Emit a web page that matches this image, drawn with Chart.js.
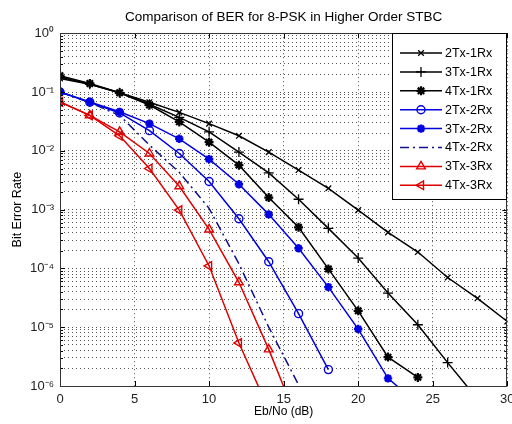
<!DOCTYPE html>
<html><head><meta charset="utf-8">
<script src="https://cdn.jsdelivr.net/npm/chart.js@4/dist/chart.umd.min.js"></script>
<style>html,body{margin:0;padding:0;background:#fff;overflow:hidden}#wrap{width:512px;height:424px;overflow:hidden}</style>
</head><body><div id="wrap"><canvas id="c" width="514" height="424"></canvas></div>
<script>
const titleText = 'Comparison of BER for 8-PSK in Higher Order STBC';
const xTitle = 'Eb/No (dB)';
const yTitle = 'Bit Error Rate';
const snr = [0,2,4,6,8,10,12,14,16,18,20,22,24,26,28,30];
const xTicks = [0,5,10,15,20,25,30];
const yMajorExps = [0,-1,-2,-3,-4,-5,-6];
const seriesNames = ['2Tx-1Rx','3Tx-1Rx','4Tx-1Rx','2Tx-2Rx','3Tx-2Rx','4Tx-2Rx','3Tx-3Rx','4Tx-3Rx'];
const ber2Tx1Rx = [0.17,0.135,0.097,0.067,0.045,0.029,0.018,0.0095,0.0047,0.0023,9.8e-4,4.1e-4,1.9e-4,7e-5,3.1e-5,1.25e-5];
const ber3Tx1Rx = [0.18,0.135,0.097,0.062,0.037,0.021,0.0095,0.0042,0.0015,4.8e-4,1.5e-4,3.8e-5,1.1e-5,2.5e-6,6e-7];
const ber4Tx1Rx = [0.19,0.14,0.097,0.06,0.031,0.014,0.0057,0.0016,5e-4,9.8e-5,1.9e-5,3.1e-6,1.4e-6];
const ber2Tx2Rx = [0.1,0.067,0.044,0.022,0.009,0.003,7e-4,1.3e-4,1.7e-5,1.9e-6];
const ber3Tx2Rx = [0.1,0.068,0.046,0.029,0.016,7.2e-3,2.7e-3,8.3e-4,2.2e-4,4.8e-5,9.3e-6,1.35e-6,5e-7];
const ber4Tx2Rx = [0.1,0.066,0.04,0.0125,4.3e-3,1.05e-3,1.2e-4,1e-5,1.05e-6,8e-8];
const ber3Tx3Rx = [0.068,0.04,0.021,0.009,2.5e-3,4.6e-4,5.8e-5,4.2e-6,2.3e-7];
const ber4Tx3Rx = [0.068,0.04,0.018,5e-3,9.8e-4,1.1e-4,5.4e-6,4e-7];

const FONT = '"Liberation Sans", Arial, Helvetica, sans-serif';
const BLACK = '#000000', BLUE = '#0000e0', RED = '#e00000';
const styles = [
  {c:BLACK, ps:'crossRot', r:4, bw:1.3, fill:'rgba(0,0,0,0)', dash:[]},
  {c:BLACK, ps:'cross', r:5, bw:1.3, fill:'rgba(0,0,0,0)', dash:[]},
  {c:BLACK, ps:'star', r:4.5, bw:2.2, fill:BLACK, dash:[]},
  {c:BLUE, ps:'circle', r:4, bw:1.4, fill:'rgba(0,0,0,0)', dash:[]},
  {c:BLUE, ps:'star', r:4.2, bw:2.4, fill:BLUE, dash:[]},
  {c:'#101090', ps:'circle', r:0, bw:1, fill:'rgba(0,0,0,0)', dash:[9,4,2,4]},
  {c:RED, ps:'triangle', r:5, bw:1.4, fill:'rgba(0,0,0,0)', dash:[]},
  {c:RED, ps:'triangle', r:5, bw:1.4, fill:'rgba(0,0,0,0)', dash:[], rot:270}
];
const bers = [ber2Tx1Rx,ber3Tx1Rx,ber4Tx1Rx,ber2Tx2Rx,ber3Tx2Rx,ber4Tx2Rx,ber3Tx3Rx,ber4Tx3Rx];

const datasets = bers.map((arr,i)=>{
  const s = styles[i];
  return {
    label: seriesNames[i],
    data: arr.map((v,k)=>({x:snr[k], y:v})),
    borderColor: s.c, borderWidth: 1.5, borderDash: s.dash,
    pointStyle: s.ps, pointRadius: s.r, pointBorderWidth: s.bw,
    pointBorderColor: s.c, pointBackgroundColor: s.fill,
    pointRotation: s.rot || 0, pointHoverRadius: s.r,
    tension: 0, fill: false
  };
});

const SUP = {'0':'\u2070','1':'\u00b9','2':'\u00b2','3':'\u00b3','4':'\u2074','5':'\u2075','6':'\u2076','7':'\u2077','8':'\u2078','9':'\u2079','-':'\u207b'};
function supStr(n){ return String(n).split('').map(ch=>SUP[ch]).join(''); }

const yTickVals = [];
for (let e=-6;e<=0;e++){ for (let m=1;m<=9;m++){ const v=parseFloat((m*Math.pow(10,e)).toPrecision(3)); if (v<=1) yTickVals.push(v); } }

const framePlugin = {
  id:'frame',
  afterDatasetsDraw(chart){
    const c = chart.ctx, a = chart.chartArea;
    const xs = chart.scales.x, ys = chart.scales.y;
    c.save();
    c.strokeStyle = '#000'; c.lineWidth = 1; c.setLineDash([]);
    c.beginPath();
    ys.ticks.forEach(t=>{
      const y = Math.round(ys.getPixelForValue(t.value))+0.5;
      const l = Math.abs(Math.log10(t.value)-Math.round(Math.log10(t.value)))<1e-9 ? 5 : 3;
      c.moveTo(a.left, y); c.lineTo(a.left+l, y);
      c.moveTo(a.right, y); c.lineTo(a.right-l, y);
    });
    xs.ticks.forEach(t=>{
      const x = Math.round(xs.getPixelForValue(t.value))+0.5;
      c.moveTo(x, a.bottom); c.lineTo(x, a.bottom-5);
      c.moveTo(x, a.top); c.lineTo(x, a.top+5);
    });
    c.stroke();
    c.strokeStyle = '#333'; c.lineWidth = 1;
    c.strokeRect(Math.round(a.left)+0.5, Math.round(a.top)+0.5, Math.round(a.right-a.left)-1, Math.round(a.bottom-a.top));
    c.restore();
  },
  afterDraw(chart){
    const c = chart.ctx;
    const L=392, T=33, R=507, B=200;
    c.save();
    c.fillStyle='#fff'; c.fillRect(L,T,R-L,B-T);
    c.strokeStyle='#000'; c.lineWidth=1; c.setLineDash([]);
    c.strokeRect(L+0.5,T+0.5,R-L-1,B-T-1);
    chart.data.datasets.forEach((ds,i)=>{
      const y = 53 + i*18.9;
      c.strokeStyle = ds.borderColor; c.lineWidth = ds.borderWidth;
      c.setLineDash(ds.borderDash||[]);
      c.beginPath(); c.moveTo(400,y); c.lineTo(442,y); c.stroke();
      c.setLineDash([]);
      if (ds.pointRadius>0){
        c.fillStyle = ds.pointBackgroundColor; c.strokeStyle = ds.pointBorderColor; c.lineWidth = ds.pointBorderWidth;
        Chart.helpers.drawPoint(c,{pointStyle:ds.pointStyle, rotation:ds.pointRotation||0, radius:ds.pointRadius, borderWidth:ds.pointBorderWidth},421,y);
      }
      c.fillStyle='#000'; c.font='12.5px '+FONT; c.textBaseline='middle'; c.textAlign='left';
      c.fillText(ds.label,445,y+0.5);
    });
    c.restore();
  }
};

new Chart(document.getElementById('c'), {
  type:'line',
  data:{datasets},
  options:{
    responsive:false, animation:false, devicePixelRatio:1,
    layout:{padding:{left:0,right:0,top:0,bottom:0}},
    plugins:{
      legend:{display:false}, tooltip:{enabled:false},
      title:{display:true, fullSize:false, text:titleText, color:'#000', font:{family:FONT,size:13.5,weight:'normal'}, padding:{top:9,bottom:8}}
    },
    scales:{
      x:{
        type:'linear', min:0, max:30,
        afterBuildTicks(s){ s.ticks = xTicks.map(v=>({value:v})); },
        ticks:{font:{family:FONT,size:13}, color:'#222', padding:6, autoSkip:false, maxRotation:0},
        grid:{color:'#555', lineWidth:1, drawTicks:false},
        border:{display:false, dash:[1,3]},
        title:{display:true, text:xTitle, color:'#000', font:{family:FONT,size:12}, padding:{top:0,bottom:5}},
        afterFit(s){ s.height = 38; s.paddingRight = 0; s.paddingLeft = 0; }
      },
      y:{
        type:'logarithmic', min:1e-6, max:1,
        afterBuildTicks(s){ s.ticks = yTickVals.map(v=>({value:v})); },
        ticks:{
          autoSkip:false, font:{family:FONT,size:13}, color:'#222', padding:6,
          callback(v){ const l=Math.log10(v); const r=Math.round(l); return (Math.abs(l-r)<1e-9 && yMajorExps.includes(r)) ? '10'+supStr(r) : ''; }
        },
        grid:{color:'#555', lineWidth:1, drawTicks:false},
        border:{display:false, dash:[1,3]},
        title:{display:true, text:yTitle, color:'#000', font:{family:FONT,size:12.5}, padding:{top:10,bottom:0}},
        afterFit(s){ s.width = 60; s.paddingTop = 0; s.paddingBottom = 0; }
      }
    }
  },
  plugins:[framePlugin]
});
</script></body></html>
